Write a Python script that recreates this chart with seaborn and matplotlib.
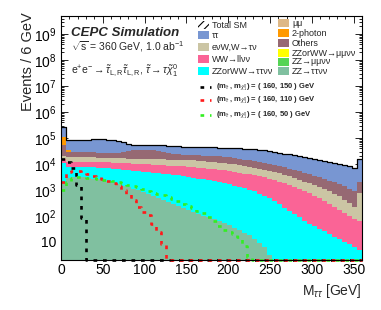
import numpy as np
import matplotlib
matplotlib.use("Agg")
import matplotlib.pyplot as plt
import seaborn as sns
from matplotlib.patches import Rectangle
from matplotlib.lines import Line2D
from matplotlib.ticker import LogLocator, MultipleLocator, FuncFormatter, NullFormatter

# 60 bins of 6 GeV from 0 to 360
edges = np.arange(0, 361, 6)
centers = edges[:-1] + 3

# stack tops (cumulative), log10(events / 6 GeV)
tautau_log = [5.42, 4.92, 4.91, 4.91, 4.92, 4.94, 4.96, 4.97, 4.96, 4.94,
              4.92, 4.89, 4.85, 4.78, 4.74, 4.72, 4.72, 4.73, 4.74, 4.74,
              4.72, 4.70, 4.69, 4.68, 4.67, 4.66, 4.66, 4.65, 4.65, 4.64,
              4.64, 4.63, 4.63, 4.62, 4.61, 4.60, 4.59, 4.58, 4.56, 4.54,
              4.52, 4.49, 4.46, 4.43, 4.40, 4.37, 4.34, 4.30, 4.26, 4.22,
              4.18, 4.14, 4.10, 4.06, 4.02, 3.98, 3.95, 3.91, 3.86, 4.20]
others_log = [4.73, 4.46, 4.45, 4.45, 4.45, 4.45, 4.45, 4.44, 4.43, 4.42,
              4.42, 4.43, 4.46, 4.50, 4.53, 4.55, 4.55, 4.54, 4.52, 4.50,
              4.47, 4.44, 4.40, 4.38, 4.36, 4.35, 4.34, 4.33, 4.32, 4.31,
              4.30, 4.29, 4.27, 4.25, 4.23, 4.20, 4.17, 4.14, 4.10, 4.06,
              4.02, 3.98, 3.95, 3.91, 3.87, 3.82, 3.77, 3.72, 3.66, 3.60,
              3.54, 3.48, 3.42, 3.36, 3.30, 3.22, 3.14, 3.05, 2.95, 3.30]
twophoton_first = [5.04, 4.55]  # 2-photon only visible in the first two bins
evw_log = [4.30, 4.27, 4.27, 4.27, 4.26, 4.26, 4.25, 4.24, 4.24, 4.23,
           4.23, 4.22, 4.22, 4.21, 4.21, 4.20, 4.20, 4.19, 4.19, 4.18,
           4.18, 4.17, 4.17, 4.16, 4.16, 4.15, 4.14, 4.13, 4.11, 4.09,
           4.07, 4.05, 4.03, 4.00, 3.98, 3.95, 3.92, 3.89, 3.85, 3.81,
           3.77, 3.73, 3.69, 3.64, 3.58, 3.52, 3.46, 3.39, 3.32, 3.25,
           3.18, 3.10, 3.02, 2.94, 2.85, 2.75, 2.62, 2.50, 2.35, 2.90]
ww_log = [4.20, 4.08, 4.08, 4.08, 4.08, 4.08, 4.08, 4.07, 4.07, 4.06,
          4.05, 4.04, 4.03, 4.02, 4.01, 4.00, 3.99, 3.98, 3.97, 3.96,
          3.95, 3.94, 3.93, 3.92, 3.91, 3.89, 3.87, 3.85, 3.83, 3.81,
          3.79, 3.77, 3.75, 3.72, 3.69, 3.66, 3.63, 3.60, 3.56, 3.52,
          3.48, 3.43, 3.38, 3.32, 3.26, 3.19, 3.12, 3.04, 2.96, 2.88,
          2.78, 2.68, 2.58, 2.47, 2.36, 2.24, 2.12, 2.00, 1.88, 1.80]
zzww_tt_log = [4.05, 3.90, 3.90, 3.90, 3.89, 3.88, 3.87, 3.86, 3.85, 3.84,
               3.82, 3.80, 3.78, 3.76, 3.74, 3.72, 3.70, 3.68, 3.66, 3.64,
               3.62, 3.60, 3.58, 3.56, 3.54, 3.50, 3.47, 3.44, 3.41, 3.38,
               3.34, 3.30, 3.26, 3.22, 3.17, 3.12, 3.07, 3.01, 2.94, 2.86,
               2.78, 2.68, 2.56, 2.44, 2.32, 2.20, 2.07, 1.95, 1.82, 1.70,
               1.60, 1.50, 1.40, 1.30, 1.20, 1.10, 1.00, 0.90, 0.80, 0.70]
# ZZ->tautau nu nu ends at 252 GeV, empty bins after that
zz_tt_log = [3.30, 3.45, 3.50, 3.50, 3.49, 3.47, 3.44, 3.41, 3.37, 3.33,
             3.28, 3.23, 3.17, 3.11, 3.05, 2.99, 2.92, 2.85, 2.78, 2.70,
             2.62, 2.54, 2.46, 2.38, 2.30, 2.22, 2.14, 2.07, 2.00, 1.94,
             1.88, 1.80, 1.72, 1.64, 1.55, 1.46, 1.36, 1.25, 1.10, 0.95,
             0.80, 0.50]

# signal points (events / 6 GeV)
sig_150 = [16000, 12000, 7000, 1600, 80] + [0] * 55
sig_110 = [2000, 5000, 5600, 5200, 4600, 4000, 3500, 3100, 2700, 2300,
           1800, 1400, 1000, 700, 400, 220, 140, 110, 50, 25, 8] + [0] * 39
sig_50 = [1000, 2000, 2800, 3200, 3200, 3000, 2900, 2750, 2500, 2400,
          2200, 2000, 1800, 1600, 1400, 1250, 1070, 930, 790, 710,
          630, 525, 450, 360, 300, 250, 200, 160, 125, 90,
          63, 40, 28, 25, 20, 16, 7, 2.5] + [0] * 22

tautau_top = 10 ** np.array(tautau_log)
others_top = 10 ** np.array(others_log)
twophoton_top = others_top.copy()
twophoton_top[:2] = 10 ** np.array(twophoton_first)
evw_top = 10 ** np.array(evw_log)
ww_top = 10 ** np.array(ww_log)
zzww_tt_top = 10 ** np.array(zzww_tt_log)
zz_tt_top = np.zeros(len(centers))
zz_tt_top[:len(zz_tt_log)] = 10 ** np.array(zz_tt_log)

YMIN, YMAX = 2, 5e9
HIST = dict(binwidth=6, binrange=(0, 360), element="step")

sns.set_style("ticks")
plt.rcParams["font.family"] = ["Liberation Sans", "DejaVu Sans"]
plt.rcParams["mathtext.fontset"] = "custom"
plt.rcParams["mathtext.rm"] = "Liberation Sans"
plt.rcParams["mathtext.it"] = "Liberation Sans:italic"
plt.rcParams["mathtext.bf"] = "Liberation Sans:bold"
plt.rcParams["hatch.linewidth"] = 0.8

W, H = 381, 310
fig = plt.figure(figsize=(W / 100, H / 100), dpi=100)
ax = fig.add_axes([61 / W, 50 / H, 301 / W, 244 / H])

c_tt = "#7896d2"
c_2g = "#ff9900"
c_oth = "#966973"
c_evw = "#cbc5a4"
c_ww = "#fa6496"
c_zzwwtt = "#00ffff"
c_zztt = "#80c0a0"
c_mumu = "#deb887"
c_zzwwmm = "#ffff00"
c_zzmm = "#55d455"

# draw stack tops from the largest down, each one covers the lower part
layers = [(tautau_top, c_tt), (twophoton_top, c_2g), (others_top, c_oth),
          (evw_top, c_evw), (ww_top, c_ww), (zzww_tt_top, c_zzwwtt),
          (zz_tt_top, c_zztt)]
for top, col in layers:
    sns.histplot(x=centers, weights=top, fill=True, color=col, alpha=1,
                 linewidth=0, ax=ax, **HIST)

# total SM outline
sns.histplot(x=centers, weights=tautau_top, fill=False, color="black",
             linewidth=0.9, ax=ax, **HIST)

dots = (0, (1.4, 2.2))
for sig, col in [(sig_150, "black"), (sig_110, "#ff1a1a"), (sig_50, "#33ee22")]:
    sns.histplot(x=centers, weights=np.clip(sig, YMIN, None), fill=False,
                 color=col, linewidth=1.9, linestyle=dots, clip_on=False,
                 ax=ax, **HIST)

ax.set_yscale("log")
ax.set_xlim(0, 360)
ax.set_ylim(YMIN, YMAX)
ax.set_xlabel("")
ax.set_ylabel("")
ax.xaxis.set_major_locator(MultipleLocator(50))
ax.xaxis.set_minor_locator(MultipleLocator(10))
ax.yaxis.set_major_locator(LogLocator(base=10, numticks=15))
ax.yaxis.set_minor_locator(LogLocator(base=10, subs=np.arange(2, 10), numticks=15))
ax.yaxis.set_minor_formatter(NullFormatter())
ax.yaxis.set_major_formatter(FuncFormatter(
    lambda v, p: "10" if abs(v - 10) < 1e-6 else r"$10^{%d}$" % round(np.log10(v))))
ax.tick_params(which="both", direction="in", top=True, right=True, width=0.6,
               labelsize=10, colors="black")
ax.tick_params(which="major", length=5)
ax.tick_params(axis="x", which="major", pad=2.5)
ax.tick_params(which="minor", length=2.5)
for s in ax.spines.values():
    s.set_linewidth(0.8)
    s.set_color("black")

fig.text(28 / W, 1 - 12 / H, "Events / 6 GeV", rotation=90, ha="center", va="top",
         fontsize=10.5)
fig.text(362 / W, 1 - 291 / H, r"M$_{\tau\tau}$ [GeV]", ha="right", va="center",
         fontsize=10)

fig.text(71 / W, 1 - 33 / H, "CEPC Simulation", fontsize=9.5, fontweight="bold",
         style="italic", va="center")
fig.text(71 / W, 1 - 47 / H, r"$\sqrt{\mathrm{s}}$ = 360 GeV, 1.0 ab$^{-1}$",
         fontsize=7.5, va="center")
fig.text(71 / W, 1 - 71 / H,
         r"e$^{+}$e$^{-}$$\rightarrow\tilde{\tau}_{\mathrm{L,R}}\tilde{\tau}_{\mathrm{L,R}}$, "
         r"$\tilde{\tau}\rightarrow\tau\tilde{\chi}_{1}^{0}$",
         fontsize=7.5, va="center")

# legend, drawn by hand in figure pixels
def box(x, y, col, hatch=None):
    if hatch:
        r = Rectangle((x / W, 1 - (y + 4) / H), 11 / W, 8 / H, transform=fig.transFigure,
                      facecolor="none", edgecolor="black", hatch=hatch, linewidth=0)
    else:
        r = Rectangle((x / W, 1 - (y + 4) / H), 11 / W, 8 / H, transform=fig.transFigure,
                      facecolor=col, edgecolor="none")
    fig.add_artist(r)

left_entries = [("Total SM", None, 25), ("ττ", c_tt, 35), ("eνW,W→τν", c_evw, 47),
                ("WW→llνν", c_ww, 59), ("ZZorWW→ττνν", c_zzwwtt, 71)]
right_entries = [("μμ", c_mumu, 23), ("2-photon", c_2g, 33), ("Others", c_oth, 43),
                 ("ZZorWW→μμνν", c_zzwwmm, 53), ("ZZ→μμνν", c_zzmm, 62),
                 ("ZZ→ττνν", c_zztt, 71)]
for lab, col, y in left_entries:
    box(198, y, col, hatch="////" if col is None else None)
    fig.text(212 / W, 1 - y / H, lab, fontsize=6.5, va="center")
for lab, col, y in right_entries:
    box(278, y, col)
    fig.text(292 / W, 1 - y / H, lab, fontsize=6.5, va="center")

sig_labels = [("160, 150", "black", 87), ("160, 110", "#ff1a1a", 100),
              ("160, 50", "#33ee22", 115)]
for pts, col, y in sig_labels:
    fig.add_artist(Line2D([200 / W, 211 / W], [1 - y / H, 1 - y / H],
                          transform=fig.transFigure, color=col, linewidth=1.9,
                          linestyle=dots))
    fig.text(216 / W, 1 - y / H,
             r"(m$_{\tilde{\tau}}$ , m$_{\tilde{\chi}_{1}^{0}}$) = ( " + pts + " ) GeV",
             fontsize=5.5, fontweight="bold", va="center")

fig.savefig("out.png", dpi=100)
